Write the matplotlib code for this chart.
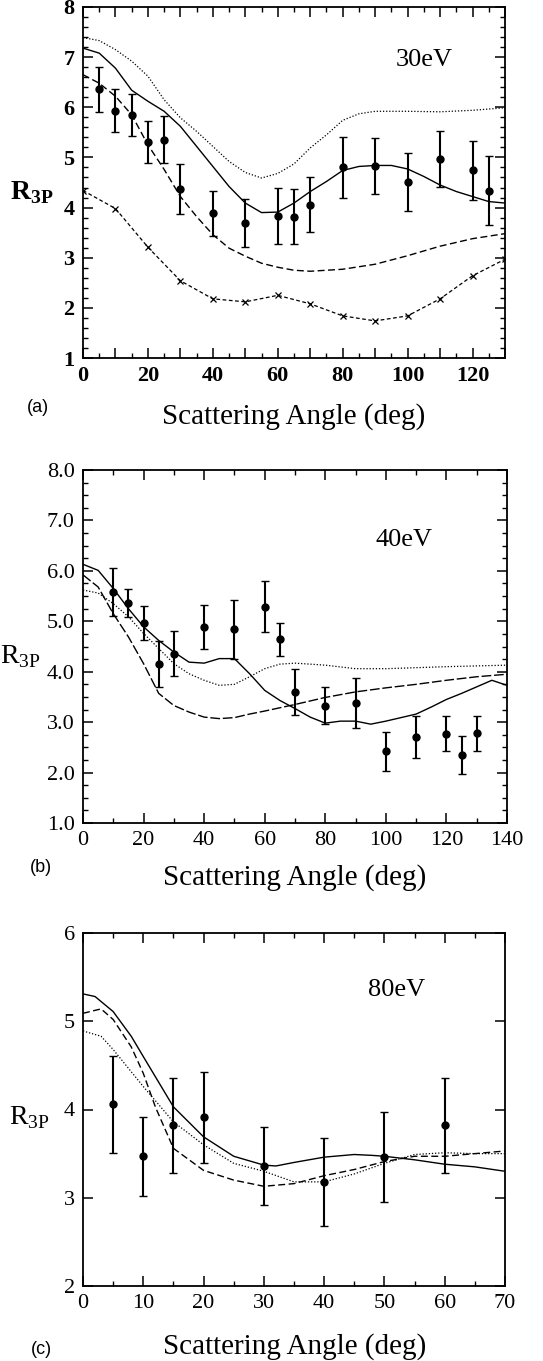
"""
R3P ratio versus scattering angle, 30 / 40 / 80 eV panels
"""

import numpy as np
import matplotlib
matplotlib.use('Agg')
import matplotlib.pyplot as plt
from matplotlib.ticker import MultipleLocator

plt.rcParams['font.family'] = ['Liberation Serif', 'DejaVu Serif']
plt.rcParams['mathtext.fontset'] = 'custom'
plt.rcParams['mathtext.rm'] = 'Liberation Serif'
plt.rcParams['mathtext.bf'] = 'Liberation Serif:bold'

# ---- panel (a) 30 eV ----
a_exp_x = [5, 10, 15, 20, 25, 30, 40, 50, 60, 65, 70, 80, 90, 100, 110, 120, 125]
a_exp_y = [6.36, 5.93, 5.84, 5.30, 5.35, 4.37, 3.89, 3.70, 3.84, 3.82, 4.06, 4.80, 4.83, 4.51, 4.97, 4.74, 4.34]
a_exp_err = [0.45, 0.43, 0.42, 0.42, 0.47, 0.50, 0.45, 0.48, 0.56, 0.55, 0.55, 0.60, 0.56, 0.57, 0.55, 0.59, 0.68]

a_solid_x = [0, 5, 10, 15, 20, 25, 30, 35, 40, 45, 50, 55, 60, 65, 70, 75, 80, 85, 90, 95, 100, 105, 110, 115, 120, 125, 130]
a_solid_y = [7.18, 7.08, 6.78, 6.34, 6.12, 5.92, 5.62, 5.22, 4.82, 4.42, 4.09, 3.90, 3.91, 4.09, 4.32, 4.52, 4.74, 4.82,
             4.84, 4.84, 4.77, 4.62, 4.45, 4.32, 4.22, 4.12, 4.09]

a_dot_x = [0, 5, 10, 15, 20, 25, 30, 35, 40, 45, 50, 55, 60, 65, 70, 75, 80, 85, 90, 100, 110, 120, 130]
a_dot_y = [7.39, 7.33, 7.15, 6.92, 6.62, 6.15, 5.79, 5.52, 5.22, 4.92, 4.70, 4.59, 4.68, 4.87, 5.19, 5.45, 5.74, 5.87,
           5.92, 5.92, 5.91, 5.94, 5.99]

a_dash_x = [0, 5, 10, 15, 20, 25, 30, 35, 40, 45, 50, 55, 60, 65, 70, 80, 90, 100, 110, 120, 130]
a_dash_y = [6.65, 6.48, 6.22, 5.85, 5.25, 4.76, 4.22, 3.82, 3.46, 3.19, 3.03, 2.89, 2.81, 2.75, 2.73, 2.77, 2.87,
            3.04, 3.23, 3.38, 3.48]

a_cross_x = [0, 10, 20, 30, 40, 50, 60, 70, 80, 90, 100, 110, 120, 130]
a_cross_y = [4.34, 3.98, 3.21, 2.54, 2.18, 2.12, 2.25, 2.08, 1.84, 1.74, 1.84, 2.18, 2.64, 2.97]

# ---- panel (b) 40 eV ----
b_exp_x = [10, 15, 20, 25, 30, 40, 50, 60, 65, 70, 80, 90, 100, 110, 120, 125, 130]
b_exp_y = [5.58, 5.37, 4.97, 4.15, 4.36, 4.89, 4.84, 5.29, 4.64, 3.60, 3.33, 3.38, 2.42, 2.71, 2.77, 2.35, 2.78]
b_exp_err = [0.48, 0.28, 0.34, 0.45, 0.44, 0.43, 0.58, 0.51, 0.33, 0.46, 0.36, 0.50, 0.38, 0.42, 0.35, 0.38, 0.35]

b_solid_x = [0, 5, 10, 15, 20, 25, 30, 35, 40, 45, 50, 55, 60, 65, 70, 75, 80, 85, 90, 95, 100, 105, 110, 115, 120,
             125, 130, 135, 140]
b_solid_y = [6.13, 6.01, 5.65, 5.25, 4.89, 4.62, 4.39, 4.19, 4.17, 4.26, 4.26, 3.96, 3.63, 3.43, 3.27, 3.10, 2.98,
             3.02, 3.02, 2.96, 3.02, 3.09, 3.16, 3.30, 3.45, 3.57, 3.70, 3.83, 3.73]

b_dot_x = [0, 5, 10, 15, 20, 25, 30, 35, 40, 45, 50, 55, 60, 65, 70, 80, 90, 100, 120, 140]
b_dot_y = [5.62, 5.56, 5.35, 5.09, 4.76, 4.46, 4.16, 3.96, 3.83, 3.73, 3.75, 3.90, 4.06, 4.15, 4.17, 4.13, 4.06,
           4.06, 4.10, 4.13]

b_dash_x = [0, 5, 10, 15, 20, 25, 30, 35, 40, 45, 50, 55, 60, 70, 80, 90, 100, 110, 120, 130, 140]
b_dash_y = [5.92, 5.68, 5.15, 4.69, 4.16, 3.57, 3.33, 3.20, 3.10, 3.07, 3.09, 3.16, 3.22, 3.35, 3.49, 3.60, 3.68,
            3.75, 3.83, 3.90, 3.95]

# ---- panel (c) 80 eV ----
c_exp_x = [5, 10, 15, 20, 30, 40, 50, 60]
c_exp_y = [4.06, 3.47, 3.82, 3.91, 3.36, 3.18, 3.46, 3.82]
c_exp_err = [0.55, 0.45, 0.54, 0.52, 0.44, 0.50, 0.51, 0.54]

c_solid_x = [0, 2, 5, 8, 10, 15, 20, 25, 30, 32, 35, 40, 45, 48, 50, 55, 60, 65, 70]
c_solid_y = [5.31, 5.28, 5.11, 4.83, 4.60, 4.03, 3.69, 3.47, 3.37, 3.36, 3.40, 3.46, 3.49, 3.48, 3.47, 3.43, 3.38,
             3.35, 3.30]

c_dash_x = [0, 3, 5, 8, 10, 12, 15, 20, 25, 30, 35, 40, 45, 50, 55, 60, 65, 70]
c_dash_y = [5.09, 5.14, 5.02, 4.71, 4.41, 4.03, 3.56, 3.31, 3.20, 3.13, 3.16, 3.25, 3.32, 3.41, 3.47, 3.47, 3.50, 3.53]

c_dot_x = [0, 3, 5, 10, 15, 20, 25, 30, 35, 40, 45, 50, 55, 60, 65, 70]
c_dot_y = [4.89, 4.83, 4.68, 4.26, 3.86, 3.60, 3.39, 3.30, 3.18, 3.18, 3.27, 3.39, 3.49, 3.51, 3.50, 3.50]

W, H = 543, 1361
fig = plt.figure(figsize=(W / 100, H / 100), dpi=100)


def rect(left, top, right, bottom):
    return [left / W, 1 - bottom / H, (right - left) / W, (bottom - top) / H]


def style_axis(ax, xmax, xmaj, xmin, ymin, ymax, ymaj, yminor, yfmt=None, bold=False):
    ax.set_xlim(0, xmax)
    ax.set_ylim(ymin, ymax)
    ax.xaxis.set_major_locator(MultipleLocator(xmaj))
    ax.xaxis.set_minor_locator(MultipleLocator(xmin))
    ax.yaxis.set_major_locator(MultipleLocator(ymaj))
    if yminor:
        ax.yaxis.set_minor_locator(MultipleLocator(yminor))
    ax.tick_params(which='both', direction='in', top=True, right=True, labelsize=16, pad=6)
    ax.tick_params(which='major', length=7, width=1.1)
    ax.tick_params(which='minor', length=3.5, width=1.0)
    for s in ax.spines.values():
        s.set_linewidth(1.3)
    if yfmt:
        ax.yaxis.set_major_formatter(plt.FormatStrFormatter(yfmt))
    if bold:
        for lab in ax.get_xticklabels() + ax.get_yticklabels():
            lab.set_fontweight('bold')


def data_points(ax, x, y, e):
    ax.errorbar(x, y, yerr=e, fmt='o', color='black', markersize=5, elinewidth=1.5, capsize=3, capthick=1.0)


# (a)
ax = fig.add_axes(rect(83, 7, 505, 358))
ax.plot(a_dot_x, a_dot_y, color='black', lw=0.9, ls=(0, (1, 1.5)))
ax.plot(a_solid_x, a_solid_y, color='black', lw=1.0)
ax.plot(a_dash_x, a_dash_y, color='black', lw=1.0, ls=(0, (5, 2.5)))
ax.plot(a_cross_x, a_cross_y, color='black', lw=0.9, ls=(0, (3, 2)), marker='x', markersize=4, mew=0.9)
data_points(ax, a_exp_x, a_exp_y, a_exp_err)
ax.set_xticks(np.arange(0, 131, 10))
ax.set_xticklabels([str(v) if v % 20 == 0 else '' for v in range(0, 131, 10)])
style_axis(ax, 130, 10, 5, 1, 8, 1, 0.2, bold=True)
ax.set_xticks(np.arange(0, 131, 10))
ax.set_xticklabels([str(v) if v % 20 == 0 else '' for v in range(0, 131, 10)], fontweight='bold', fontsize=16)
ax.text(105, 6.95, '30eV', fontsize=19, ha='center', va='center')
fig.text(32 / W, 1 - 193 / H, r'$\mathbf{R}_{\mathbf{3P}}$', fontsize=20, ha='center', va='center')
fig.text(38 / W, 1 - 408 / H, '(a)', fontsize=13, ha='center', va='center', family='Liberation Sans')
fig.text(294 / W, 1 - 417 / H, 'Scattering Angle (deg)', fontsize=21, ha='center', va='center')

# (b)
ax = fig.add_axes(rect(83, 470, 507, 823))
ax.plot(b_dot_x, b_dot_y, color='black', lw=0.9, ls=(0, (1, 1.5)))
ax.plot(b_solid_x, b_solid_y, color='black', lw=1.0)
ax.plot(b_dash_x, b_dash_y, color='black', lw=1.0, ls=(0, (7, 2)))
data_points(ax, b_exp_x, b_exp_y, b_exp_err)
style_axis(ax, 140, 20, 10, 1, 8, 1, 0.25, yfmt='%.1f')
fig.text(20 / W, 1 - 657 / H, r'R$_{\mathrm{3P}}$', fontsize=20, ha='center', va='center')
fig.text(41 / W, 1 - 868 / H, '(b)', fontsize=13, ha='center', va='center', family='Liberation Sans')
fig.text(295 / W, 1 - 878 / H, 'Scattering Angle (deg)', fontsize=21, ha='center', va='center')
ax.text(106, 6.61, '40eV', fontsize=19, ha='center', va='center')

# (c)
ax = fig.add_axes(rect(83, 933, 505, 1286))
ax.plot(c_dot_x, c_dot_y, color='black', lw=0.9, ls=(0, (1, 1.5)))
ax.plot(c_solid_x, c_solid_y, color='black', lw=1.0)
ax.plot(c_dash_x, c_dash_y, color='black', lw=1.0, ls=(0, (5, 2.5)))
data_points(ax, c_exp_x, c_exp_y, c_exp_err)
style_axis(ax, 70, 10, 5, 2, 6, 1, None)
fig.text(29 / W, 1 - 1118 / H, r'R$_{\mathrm{3P}}$', fontsize=20, ha='center', va='center')
fig.text(41 / W, 1 - 1350 / H, '(c)', fontsize=13, ha='center', va='center', family='Liberation Sans')
fig.text(295 / W, 1 - 1347 / H, 'Scattering Angle (deg)', fontsize=21, ha='center', va='center')
ax.text(52, 5.35, '80eV', fontsize=19, ha='center', va='center')

fig.savefig('out.png', dpi=100)
